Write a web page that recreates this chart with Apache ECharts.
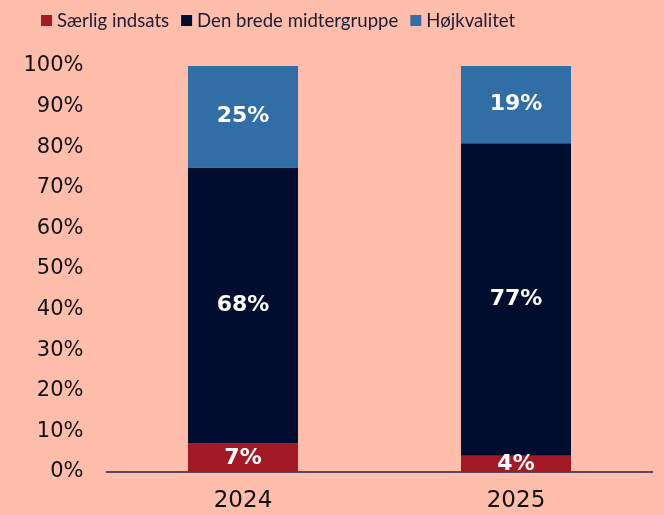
<!DOCTYPE html>
<html><head><meta charset="utf-8">
<script src="https://cdn.jsdelivr.net/npm/echarts@6/dist/echarts.min.js"></script>
<style>html,body{margin:0;padding:0;background:#FFBEAC;}#c{width:664px;height:515px;}</style>
</head><body><div id="c"></div>
<script>
const categories = ['2024', '2025'];
const saerlig = [7, 4];
const midter = [68, 77];
const hoj = [25, 19];
const yTicks = [0,10,20,30,40,50,60,70,80,90,100];

const font = 'DejaVu Sans';
const lbl = {show:true, position:'inside', color:'#fff', fontWeight:'bold', fontSize:22, fontFamily:font, formatter: p => p.value + '%'};
const chart = echarts.init(document.getElementById('c'));
chart.setOption({
  backgroundColor:'#FFBEAC',
  animation:false,
  legend:{top:6, left:36, itemWidth:11, itemHeight:11, itemGap:12,
    textStyle:{fontFamily:'Lato', fontSize:18.6, color:'#1b1b33'},
    icon:'rect', data:['Særlig indsats','Den brede midtergruppe','Højkvalitet']},
  grid:{left:106.5, right:11.5, top:66, bottom:43},
  xAxis:{type:'category', data:categories,
    axisLine:{lineStyle:{color:'#22224a', width:1.5}}, axisTick:{show:false},
    axisLabel:{fontFamily:font, fontSize:23, color:'#111', margin:18}},
  yAxis:{type:'value', min:0, max:100, interval:10,
    axisLine:{show:false}, axisTick:{show:false}, splitLine:{show:false},
    axisLabel:{fontFamily:font, fontSize:21, color:'#111', margin:23, formatter: v => yTicks.includes(v) ? v + '%' : ''}},
  series:[
    {name:'Særlig indsats', type:'bar', stack:'s', data:saerlig, barWidth:110, itemStyle:{color:'#A31A26'}, label:lbl},
    {name:'Den brede midtergruppe', type:'bar', stack:'s', data:midter, itemStyle:{color:'#000D2E'}, label:lbl},
    {name:'Højkvalitet', type:'bar', stack:'s', data:hoj, itemStyle:{color:'#306EA5'}, label:lbl}
  ]
});
</script></body></html>
